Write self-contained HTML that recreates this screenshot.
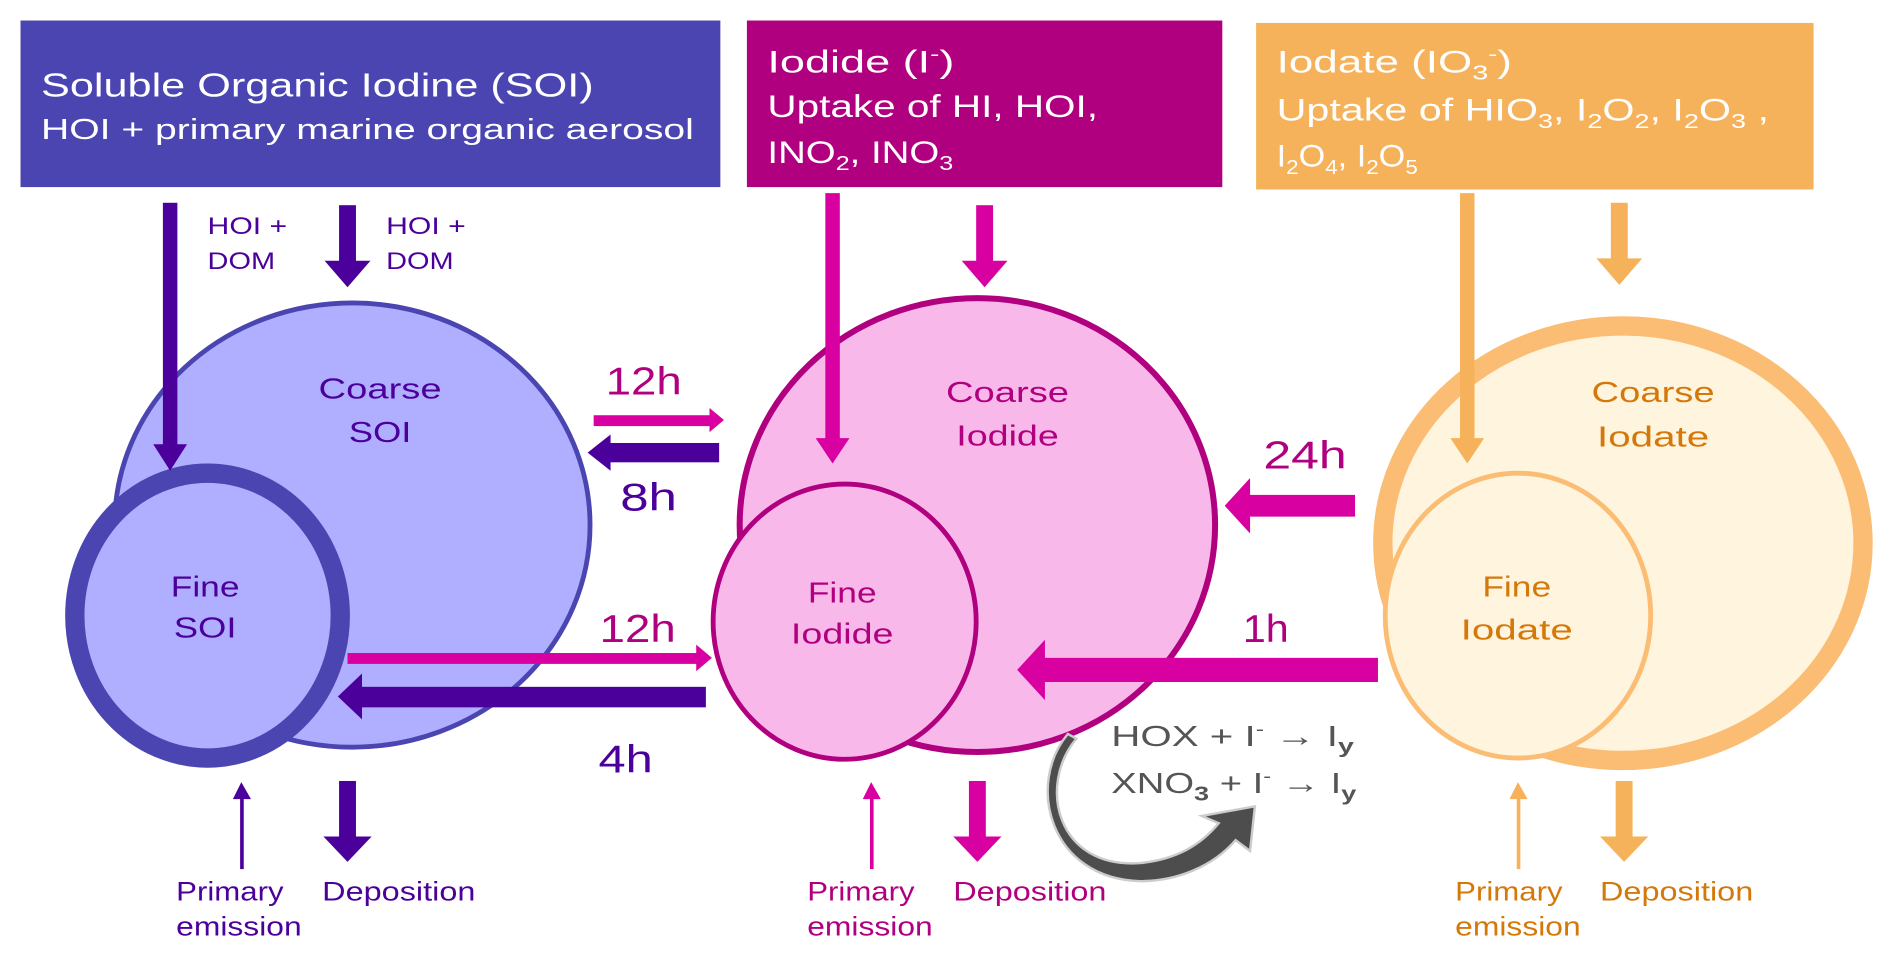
<!DOCTYPE html>
<html><head><meta charset="utf-8"><style>
html,body{margin:0;padding:0;background:#fff;}
svg{display:block;}
text{font-family:"Liberation Sans",sans-serif;}
</style></head><body>
<svg width="1892" height="956" viewBox="0 0 1568 792" preserveAspectRatio="none" xmlns="http://www.w3.org/2000/svg">
<!-- boxes -->
<rect x="17" y="17" width="580" height="138" fill="#4a45b0"/>
<rect x="619" y="17" width="394" height="138" fill="#b0007f"/>
<rect x="1041" y="19" width="462" height="138" fill="#f5b25a"/>
<g fill="#fff">
<text x="34" y="80" font-size="28" textLength="458" lengthAdjust="spacingAndGlyphs">Soluble Organic Iodine (SOI)</text>
<text x="34" y="115" font-size="24" textLength="541" lengthAdjust="spacingAndGlyphs">HOI +  primary marine organic aerosol</text>
<text x="636" y="60" font-size="26" textLength="155" lengthAdjust="spacingAndGlyphs">Iodide (I<tspan font-size="16" dy="-10">-</tspan><tspan dy="10">)</tspan></text>
<text x="636" y="97" font-size="26" textLength="274" lengthAdjust="spacingAndGlyphs">Uptake of HI, HOI,</text>
<text x="636" y="135" font-size="26" textLength="154" lengthAdjust="spacingAndGlyphs">INO<tspan font-size="17" dy="6">2</tspan><tspan dy="-6">, INO</tspan><tspan font-size="17" dy="6">3</tspan></text>
<text x="1058" y="60" font-size="26" textLength="195" lengthAdjust="spacingAndGlyphs">Iodate (IO<tspan font-size="17" dy="6">3</tspan><tspan font-size="16" dy="-16">-</tspan><tspan dy="10">)</tspan></text>
<text x="1058" y="100" font-size="26" textLength="408" lengthAdjust="spacingAndGlyphs">Uptake of  HIO<tspan font-size="17" dy="6">3</tspan><tspan dy="-6">, I</tspan><tspan font-size="17" dy="6">2</tspan><tspan dy="-6">O</tspan><tspan font-size="17" dy="6">2</tspan><tspan dy="-6">, I</tspan><tspan font-size="17" dy="6">2</tspan><tspan dy="-6">O</tspan><tspan font-size="17" dy="6">3</tspan><tspan dy="-6"> ,</tspan></text>
<text x="1058" y="138" font-size="26" textLength="117" lengthAdjust="spacingAndGlyphs">I<tspan font-size="17" dy="6">2</tspan><tspan dy="-6">O</tspan><tspan font-size="17" dy="6">4</tspan><tspan dy="-6">,  I</tspan><tspan font-size="17" dy="6">2</tspan><tspan dy="-6">O</tspan><tspan font-size="17" dy="6">5</tspan></text>
</g>
<!-- ellipses -->
<ellipse cx="292" cy="435" rx="197" ry="184" fill="#b0aefe" stroke="#4a45b0" stroke-width="4"/>
<ellipse cx="172" cy="510" rx="110" ry="118" fill="#b0aefe" stroke="#4a45b0" stroke-width="16"/>
<ellipse cx="810" cy="435" rx="197" ry="188" fill="#f9b8ea" stroke="#b0007f" stroke-width="5"/>
<ellipse cx="700" cy="515" rx="109" ry="114" fill="#f9b8ea" stroke="#b0007f" stroke-width="4"/>
<ellipse cx="1345" cy="450" rx="199" ry="180" fill="#fff4dd" stroke="#fbbd73" stroke-width="16"/>
<ellipse cx="1258" cy="510" rx="110" ry="118" fill="#fff4dd" stroke="#fbbd73" stroke-width="4"/>
<!-- ellipse labels -->
<g font-size="24" text-anchor="middle" lengthAdjust="spacingAndGlyphs">
<text x="315" y="330" fill="#4b009c" textLength="102" lengthAdjust="spacingAndGlyphs">Coarse</text><text x="315" y="366" fill="#4b009c" textLength="52" lengthAdjust="spacingAndGlyphs">SOI</text>
<text x="170" y="494" fill="#4b009c" textLength="57" lengthAdjust="spacingAndGlyphs">Fine</text><text x="170" y="528" fill="#4b009c" textLength="52" lengthAdjust="spacingAndGlyphs">SOI</text>
<text x="835" y="333" fill="#b0007f" textLength="102" lengthAdjust="spacingAndGlyphs">Coarse</text><text x="835" y="369" fill="#b0007f" textLength="85" lengthAdjust="spacingAndGlyphs">Iodide</text>
<text x="698" y="499" fill="#b0007f" textLength="57" lengthAdjust="spacingAndGlyphs">Fine</text><text x="698" y="533" fill="#b0007f" textLength="85" lengthAdjust="spacingAndGlyphs">Iodide</text>
<text x="1370" y="333" fill="#d5780a" textLength="102" lengthAdjust="spacingAndGlyphs">Coarse</text><text x="1370" y="370" fill="#d5780a" textLength="93" lengthAdjust="spacingAndGlyphs">Iodate</text>
<text x="1257" y="494" fill="#d5780a" textLength="57" lengthAdjust="spacingAndGlyphs">Fine</text><text x="1257" y="530" fill="#d5780a" textLength="93" lengthAdjust="spacingAndGlyphs">Iodate</text>
</g>
<!-- vertical arrows from boxes -->
<g>
<rect x="135" y="168" width="12" height="202" fill="#4b009c"/><polygon points="127,368 155,368 141,390" fill="#4b009c"/>
<rect x="281" y="170" width="14" height="48" fill="#4b009c"/><polygon points="269,216 307,216 288,238" fill="#4b009c"/>
<rect x="684" y="160" width="12" height="205" fill="#d800a0"/><polygon points="676,363 704,363 690,384" fill="#d800a0"/>
<rect x="809" y="170" width="14" height="48" fill="#d800a0"/><polygon points="797,216 835,216 816,238" fill="#d800a0"/>
<rect x="1210" y="160" width="12" height="205" fill="#f5b25a"/><polygon points="1202,363 1230,363 1216,384" fill="#f5b25a"/>
<rect x="1335" y="168" width="14" height="48" fill="#f5b25a"/><polygon points="1323,214 1361,214 1342,236" fill="#f5b25a"/>
</g>
<g font-size="20" fill="#4b009c">
<text x="172" y="194" textLength="66" lengthAdjust="spacingAndGlyphs">HOI +</text><text x="172" y="223" textLength="56" lengthAdjust="spacingAndGlyphs">DOM</text>
<text x="320" y="194" textLength="66" lengthAdjust="spacingAndGlyphs">HOI +</text><text x="320" y="223" textLength="56" lengthAdjust="spacingAndGlyphs">DOM</text>
</g>
<!-- horizontal arrows -->
<rect x="492" y="344" width="98" height="9" fill="#d800a0"/><polygon points="588,338 600,348 588,358" fill="#d800a0"/>
<rect x="505" y="367" width="91" height="16" fill="#4b009c"/><polygon points="506,360 487,375 506,390" fill="#4b009c"/>
<rect x="288" y="541" width="290" height="9" fill="#d800a0"/><polygon points="577,534 590,545 577,556" fill="#d800a0"/>
<rect x="298" y="569" width="287" height="17" fill="#4b009c"/><polygon points="300,558 280,577 300,596" fill="#4b009c"/>
<rect x="1034" y="410" width="89" height="18" fill="#d800a0"/><polygon points="1036,396 1015,419 1036,442" fill="#d800a0"/>
<rect x="864" y="545" width="278" height="20" fill="#d800a0"/><polygon points="866,530 843,555 866,580" fill="#d800a0"/>
<g font-size="32">
<text x="502" y="327" fill="#b0007f" textLength="63" lengthAdjust="spacingAndGlyphs">12h</text>
<text x="514" y="423" fill="#4b009c" textLength="47" lengthAdjust="spacingAndGlyphs">8h</text>
<text x="497" y="532" fill="#b0007f" textLength="63" lengthAdjust="spacingAndGlyphs">12h</text>
<text x="496" y="640" fill="#4b009c" textLength="45" lengthAdjust="spacingAndGlyphs">4h</text>
<text x="1047" y="388" fill="#b0007f" textLength="69" lengthAdjust="spacingAndGlyphs">24h</text>
<text x="1030" y="532" fill="#b0007f" textLength="38" lengthAdjust="spacingAndGlyphs">1h</text>
</g>
<!-- bottom arrows -->
<rect x="199" y="660" width="3" height="60" fill="#4b009c"/><polygon points="193,662 208,662 200,648" fill="#4b009c"/>
<rect x="281" y="647" width="14" height="48" fill="#4b009c"/><polygon points="268,693 308,693 288,714" fill="#4b009c"/>
<rect x="721" y="660" width="3" height="60" fill="#d800a0"/><polygon points="715,662 730,662 722,648" fill="#d800a0"/>
<rect x="803" y="647" width="14" height="48" fill="#d800a0"/><polygon points="790,693 830,693 810,714" fill="#d800a0"/>
<rect x="1257" y="660" width="3" height="60" fill="#f5b25a"/><polygon points="1251,662 1266,662 1258,648" fill="#f5b25a"/>
<rect x="1339" y="647" width="14" height="48" fill="#f5b25a"/><polygon points="1326,693 1366,693 1346,714" fill="#f5b25a"/>
<g font-size="22">
<g fill="#4b009c"><text x="146" y="746" textLength="89" lengthAdjust="spacingAndGlyphs">Primary</text><text x="146" y="775" textLength="104" lengthAdjust="spacingAndGlyphs">emission</text><text x="267" y="746" textLength="127" lengthAdjust="spacingAndGlyphs">Deposition</text></g>
<g fill="#b0007f"><text x="669" y="746" textLength="89" lengthAdjust="spacingAndGlyphs">Primary</text><text x="669" y="775" textLength="104" lengthAdjust="spacingAndGlyphs">emission</text><text x="790" y="746" textLength="127" lengthAdjust="spacingAndGlyphs">Deposition</text></g>
<g fill="#d5780a"><text x="1206" y="746" textLength="89" lengthAdjust="spacingAndGlyphs">Primary</text><text x="1206" y="775" textLength="104" lengthAdjust="spacingAndGlyphs">emission</text><text x="1326" y="746" textLength="127" lengthAdjust="spacingAndGlyphs">Deposition</text></g>
</g>
<!-- curved reaction arrow -->
<path d="M 892 612 C 860 650, 875 720, 945 715 C 975 712, 995 700, 1010 682 L 996 676 L 1040 668 L 1036 705 L 1024 696 C 1005 718, 975 730, 945 730 C 870 728, 850 650, 885 608 Z" fill="#4d4d4d" stroke="#ccc" stroke-width="2"/>
<g font-size="24" fill="#555">
<text x="921" y="618" textLength="201" lengthAdjust="spacingAndGlyphs">HOX  + I<tspan font-size="15" dy="-9">-</tspan><tspan dy="9"> → I</tspan><tspan font-size="17" dy="6" font-weight="bold">y</tspan></text>
<text x="921" y="657" textLength="203" lengthAdjust="spacingAndGlyphs">XNO<tspan font-size="17" dy="6" font-weight="bold">3</tspan><tspan dy="-6"> + I</tspan><tspan font-size="15" dy="-9">-</tspan><tspan dy="9"> → I</tspan><tspan font-size="17" dy="6" font-weight="bold">y</tspan></text>
</g>
</svg>
</body></html>
